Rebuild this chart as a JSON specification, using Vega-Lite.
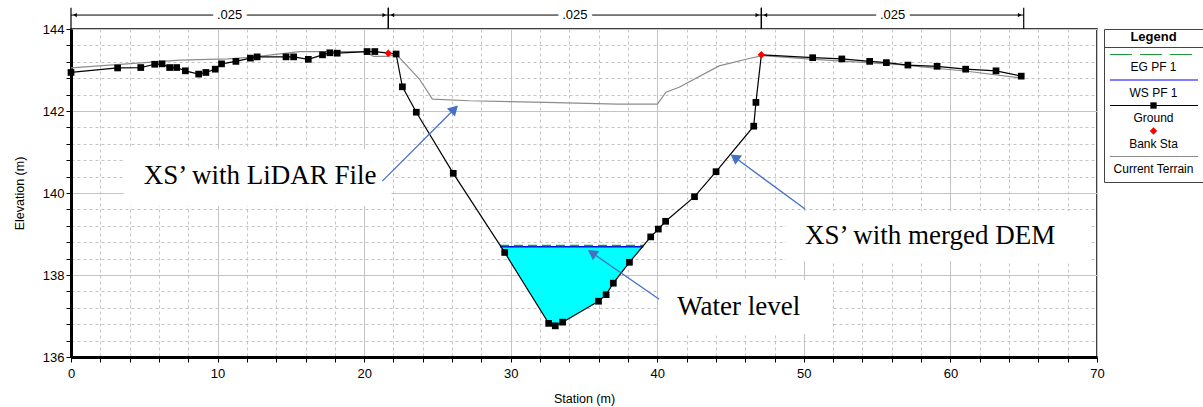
{
  "$schema": "https://vega.github.io/schema/vega-lite/v6.json",
  "autosize": {"type": "pad"},
  "padding": {"left": 12, "top": 6, "right": 0, "bottom": 0},
  "background": "white",
  "spacing": 7,
  "bounds": "flush",
  "config": {"font": "Liberation Sans"},
  "datasets": {
    "ground": [
      {"station": 0, "elevation": 142.94},
      {"station": 3.18, "elevation": 143.05},
      {"station": 4.76, "elevation": 143.06},
      {"station": 5.71, "elevation": 143.14},
      {"station": 6.21, "elevation": 143.15},
      {"station": 6.73, "elevation": 143.06},
      {"station": 7.21, "elevation": 143.06},
      {"station": 7.8, "elevation": 142.98},
      {"station": 8.71, "elevation": 142.9},
      {"station": 9.2, "elevation": 142.94},
      {"station": 9.84, "elevation": 143.02},
      {"station": 10.27, "elevation": 143.15},
      {"station": 11.25, "elevation": 143.21},
      {"station": 12.24, "elevation": 143.29},
      {"station": 12.7, "elevation": 143.32},
      {"station": 14.67, "elevation": 143.32},
      {"station": 15.19, "elevation": 143.32},
      {"station": 16.19, "elevation": 143.26},
      {"station": 17.16, "elevation": 143.37},
      {"station": 17.66, "elevation": 143.42},
      {"station": 18.16, "elevation": 143.41},
      {"station": 20.2, "elevation": 143.45},
      {"station": 20.73, "elevation": 143.45},
      {"station": 21.65, "elevation": 143.41, "bank": true},
      {"station": 22.18, "elevation": 143.39},
      {"station": 22.61, "elevation": 142.59},
      {"station": 23.56, "elevation": 141.97},
      {"station": 26.08, "elevation": 140.48},
      {"station": 29.59, "elevation": 138.55},
      {"station": 32.59, "elevation": 136.82},
      {"station": 33.04, "elevation": 136.76},
      {"station": 33.54, "elevation": 136.85},
      {"station": 35.99, "elevation": 137.36},
      {"station": 36.51, "elevation": 137.52},
      {"station": 37.0, "elevation": 137.8},
      {"station": 38.1, "elevation": 138.31},
      {"station": 39.55, "elevation": 138.93},
      {"station": 40.07, "elevation": 139.12},
      {"station": 40.57, "elevation": 139.31},
      {"station": 42.54, "elevation": 139.91},
      {"station": 44.01, "elevation": 140.52},
      {"station": 46.58, "elevation": 141.63},
      {"station": 46.73, "elevation": 142.21},
      {"station": 47.1, "elevation": 143.37, "bank": true},
      {"station": 50.6, "elevation": 143.3},
      {"station": 52.59, "elevation": 143.27},
      {"station": 54.49, "elevation": 143.21},
      {"station": 55.63, "elevation": 143.18},
      {"station": 57.1, "elevation": 143.12},
      {"station": 59.09, "elevation": 143.09},
      {"station": 61.04, "elevation": 143.02},
      {"station": 63.11, "elevation": 142.98},
      {"station": 64.83, "elevation": 142.85}
    ],
    "terrain": [
      {"station": 0, "elevation": 143.05},
      {"station": 7.42, "elevation": 143.24},
      {"station": 10.69, "elevation": 143.27},
      {"station": 12.2, "elevation": 143.31},
      {"station": 15.59, "elevation": 143.45},
      {"station": 20.09, "elevation": 143.45},
      {"station": 20.63, "elevation": 143.33},
      {"station": 21.59, "elevation": 143.33},
      {"station": 22.2, "elevation": 143.38},
      {"station": 23.77, "elevation": 142.78},
      {"station": 24.66, "elevation": 142.29},
      {"station": 27.18, "elevation": 142.25},
      {"station": 32.41, "elevation": 142.21},
      {"station": 37.29, "elevation": 142.17},
      {"station": 40.01, "elevation": 142.17},
      {"station": 40.59, "elevation": 142.46},
      {"station": 41.49, "elevation": 142.58},
      {"station": 44.22, "elevation": 143.1},
      {"station": 46.27, "elevation": 143.28},
      {"station": 47.17, "elevation": 143.35},
      {"station": 50.7, "elevation": 143.26},
      {"station": 56.49, "elevation": 143.13},
      {"station": 61.13, "elevation": 142.97},
      {"station": 64.95, "elevation": 142.8}
    ],
    "water": [
      {"station": 29.27, "bed": 138.69, "ws": 138.69},
      {"station": 29.59, "bed": 138.55, "ws": 138.69},
      {"station": 32.59, "bed": 136.82, "ws": 138.69},
      {"station": 33.04, "bed": 136.76, "ws": 138.69},
      {"station": 33.54, "bed": 136.85, "ws": 138.69},
      {"station": 35.99, "bed": 137.36, "ws": 138.69},
      {"station": 36.51, "bed": 137.52, "ws": 138.69},
      {"station": 37.0, "bed": 137.8, "ws": 138.69},
      {"station": 38.1, "bed": 138.31, "ws": 138.69},
      {"station": 39.05, "bed": 138.69, "ws": 138.69}
    ],
    "eg": [
      {"station": 29.27, "elevation": 138.72},
      {"station": 39.05, "elevation": 138.72}
    ],
    "nvalues": [
      {"seg": 1, "n": ".025", "from": 0, "to": 21.65},
      {"seg": 2, "n": ".025", "from": 21.65, "to": 47.1},
      {"seg": 3, "n": ".025", "from": 47.1, "to": 65}
    ],
    "notes": [
      {"id": 1, "label": "XS’ with LiDAR File", "tx": 4.96, "ty": 140.41, "bx1": 3.59, "bx2": 21.86, "by1": 141.07, "by2": 139.68, "ax1": 21.24, "ay1": 140.29, "ax2": 26.16, "ay2": 142.05},
      {"id": 2, "label": "XS’ with merged DEM", "tx": 50.08, "ty": 138.95, "bx1": 48.78, "bx2": 69.65, "by1": 139.56, "by2": 138.34, "ax1": 50.08, "ay1": 139.61, "ax2": 45.28, "ay2": 140.87},
      {"id": 3, "label": "Water level", "tx": 41.36, "ty": 137.22, "bx1": 40.13, "bx2": 51.92, "by1": 137.88, "by2": 136.56, "ax1": 40.13, "ay1": 137.41, "ax2": 35.55, "ay2": 138.54}
    ],
    "legend": [
      {"item": "Legend", "kind": "title"},
      {"item": "EG PF 1", "kind": "eg"},
      {"item": "WS PF 1", "kind": "ws"},
      {"item": "Ground", "kind": "ground"},
      {"item": "Bank Sta", "kind": "bank"},
      {"item": "Current Terrain", "kind": "terrain"}
    ]
  },
  "hconcat": [
    {
      "width": 1026,
      "height": 328,
      "view": {"stroke": "#000", "strokeWidth": 1.5},
      "layer": [
        {
          "data": {"name": "notes"},
          "mark": {"type": "rect", "fill": "white"},
          "encoding": {
            "x": {
              "field": "bx1", "type": "quantitative", "title": "Station (m)",
              "scale": {"domain": [0, 70], "nice": false, "zero": false},
              "axis": {
                "values": [0,2,4,6,8,10,12,14,16,18,20,22,24,26,28,30,32,34,36,38,40,42,44,46,48,50,52,54,56,58,60,62,64,66,68,70],
                "tickCount": 200,
                "labelExpr": "datum.value % 10 === 0 ? format(datum.value, 'd') : ''",
                "grid": true,
                "gridColor": "#c4c4c4",
                "gridDash": {"condition": {"test": "datum.value % 10 === 0", "value": []}, "value": [3, 3]},
                "domainColor": "#000", "domainWidth": 3,
                "tickColor": "#000", "tickSize": 5,
                "labelColor": "#000", "labelFontSize": 13, "labelPadding": 5,
                "labelOverlap": false, "labelFlush": false,
                "titleColor": "#000", "titleFontSize": 12.5, "titleFontWeight": "normal", "titlePadding": 12
              }
            },
            "x2": {"field": "bx2"},
            "y": {
              "field": "by1", "type": "quantitative", "title": "Elevation (m)",
              "scale": {"domain": [136, 144], "nice": false, "zero": false},
              "axis": {
                "values": [136,136.4,136.8,137.2,137.6,138,138.4,138.8,139.2,139.6,140,140.4,140.8,141.2,141.6,142,142.4,142.8,143.2,143.6,144],
                "tickCount": 200,
                "labelExpr": "datum.value % 2 === 0 ? format(datum.value, 'd') : ''",
                "grid": true,
                "gridColor": "#c4c4c4",
                "gridDash": {"condition": {"test": "datum.value % 2 === 0", "value": []}, "value": [3, 3]},
                "domainColor": "#000", "domainWidth": 3,
                "tickColor": "#000", "tickSize": 5,
                "labelColor": "#000", "labelFontSize": 13, "labelPadding": 2,
                "labelOverlap": false, "labelFlush": false,
                "titleColor": "#000", "titleFontSize": 12.5, "titleFontWeight": "normal", "titlePadding": 16
              }
            },
            "y2": {"field": "by2"}
          }
        },
        {
          "data": {"name": "water"},
          "mark": {"type": "area", "color": "#00ffff", "opacity": 1},
          "encoding": {
            "x": {"field": "station", "type": "quantitative"},
            "y": {"field": "bed", "type": "quantitative"},
            "y2": {"field": "ws"}
          }
        },
        {
          "data": {"name": "terrain"},
          "mark": {"type": "line", "color": "#8c8c8c", "strokeWidth": 1.2},
          "encoding": {
            "x": {"field": "station", "type": "quantitative"},
            "y": {"field": "elevation", "type": "quantitative"}
          }
        },
        {
          "data": {"name": "water"},
          "mark": {"type": "line", "color": "#0000ff", "strokeWidth": 1.5},
          "encoding": {
            "x": {"field": "station", "type": "quantitative"},
            "y": {"field": "ws", "type": "quantitative"}
          }
        },
        {
          "data": {"name": "eg"},
          "mark": {"type": "line", "color": "#1e9a3a", "strokeWidth": 1.5, "strokeDash": [9, 5]},
          "encoding": {
            "x": {"field": "station", "type": "quantitative"},
            "y": {"field": "elevation", "type": "quantitative"}
          }
        },
        {
          "data": {"name": "ground"},
          "mark": {"type": "line", "color": "#000", "strokeWidth": 1.2},
          "encoding": {
            "x": {"field": "station", "type": "quantitative"},
            "y": {"field": "elevation", "type": "quantitative"}
          }
        },
        {
          "data": {"name": "ground"},
          "transform": [{"filter": "!datum.bank"}],
          "mark": {"type": "point", "shape": "square", "filled": true, "color": "#000", "size": 45, "opacity": 1},
          "encoding": {
            "x": {"field": "station", "type": "quantitative"},
            "y": {"field": "elevation", "type": "quantitative"}
          }
        },
        {
          "data": {"name": "ground"},
          "transform": [{"filter": "datum.bank"}],
          "mark": {"type": "point", "shape": "diamond", "filled": true, "color": "#ff0000", "size": 55, "opacity": 1},
          "encoding": {
            "x": {"field": "station", "type": "quantitative"},
            "y": {"field": "elevation", "type": "quantitative"}
          }
        },
        {
          "data": {"name": "nvalues"},
          "mark": {"type": "rule", "color": "#000", "strokeWidth": 1},
          "encoding": {
            "x": {"field": "from", "type": "quantitative"},
            "x2": {"field": "to"},
            "y": {"datum": 144.34}
          }
        },
        {
          "data": {"name": "nvalues"},
          "transform": [{"fold": ["from", "to"], "as": ["end", "sta"]}],
          "mark": {"type": "rule", "color": "#000", "strokeWidth": 1.2},
          "encoding": {
            "x": {"field": "sta", "type": "quantitative"},
            "y": {"datum": 144.52},
            "y2": {"datum": 144.0}
          }
        },
        {
          "data": {"name": "nvalues"},
          "mark": {"type": "point", "shape": "triangle-left", "filled": true, "color": "#000", "size": 18, "xOffset": 4, "opacity": 1},
          "encoding": {
            "x": {"field": "from", "type": "quantitative"},
            "y": {"datum": 144.34}
          }
        },
        {
          "data": {"name": "nvalues"},
          "mark": {"type": "point", "shape": "triangle-right", "filled": true, "color": "#000", "size": 18, "xOffset": -4, "opacity": 1},
          "encoding": {
            "x": {"field": "to", "type": "quantitative"},
            "y": {"datum": 144.34}
          }
        },
        {
          "data": {"name": "nvalues"},
          "transform": [{"fold": ["from", "to"], "as": ["end", "sta"]}],
          "mark": {"type": "text", "fontSize": 13, "stroke": "white", "strokeWidth": 10, "color": "white", "baseline": "middle"},
          "encoding": {
            "x": {"aggregate": "mean", "field": "sta", "type": "quantitative"},
            "y": {"datum": 144.34},
            "detail": {"field": "seg"},
            "text": {"field": "n"}
          }
        },
        {
          "data": {"name": "nvalues"},
          "transform": [{"fold": ["from", "to"], "as": ["end", "sta"]}],
          "mark": {"type": "text", "fontSize": 13, "color": "#000", "baseline": "middle"},
          "encoding": {
            "x": {"aggregate": "mean", "field": "sta", "type": "quantitative"},
            "y": {"datum": 144.34},
            "detail": {"field": "seg"},
            "text": {"field": "n"}
          }
        },
        {
          "data": {"name": "notes"},
          "mark": {"type": "text", "font": "Liberation Serif", "fontSize": 27, "color": "#000", "align": "left", "baseline": "middle"},
          "encoding": {
            "x": {"field": "tx", "type": "quantitative"},
            "y": {"field": "ty", "type": "quantitative"},
            "text": {"field": "label"}
          }
        },
        {
          "data": {"name": "notes"},
          "mark": {"type": "rule", "color": "#4472c4", "strokeWidth": 1.3},
          "encoding": {
            "x": {"field": "ax1", "type": "quantitative"},
            "y": {"field": "ay1", "type": "quantitative"},
            "x2": {"field": "ax2"},
            "y2": {"field": "ay2"}
          }
        },
        {
          "data": {"name": "notes"},
          "transform": [{"filter": "datum.id === 1"}],
          "mark": {"type": "point", "shape": "triangle-up", "filled": true, "color": "#4472c4", "size": 130, "angle": 45, "opacity": 1},
          "encoding": {
            "x": {"field": "ax2", "type": "quantitative"},
            "y": {"field": "ay2", "type": "quantitative"}
          }
        },
        {
          "data": {"name": "notes"},
          "transform": [{"filter": "datum.id === 2"}],
          "mark": {"type": "point", "shape": "triangle-up", "filled": true, "color": "#4472c4", "size": 130, "angle": 306, "opacity": 1},
          "encoding": {
            "x": {"field": "ax2", "type": "quantitative"},
            "y": {"field": "ay2", "type": "quantitative"}
          }
        },
        {
          "data": {"name": "notes"},
          "transform": [{"filter": "datum.id === 3"}],
          "mark": {"type": "point", "shape": "triangle-up", "filled": true, "color": "#4472c4", "size": 130, "angle": 304, "opacity": 1},
          "encoding": {
            "x": {"field": "ax2", "type": "quantitative"},
            "y": {"field": "ay2", "type": "quantitative"}
          }
        }
      ]
    },
    {
      "width": 99,
      "height": 153,
      "view": {"stroke": "#444", "strokeWidth": 1},
      "data": {"name": "legend"},
      "layer": [
        {
          "transform": [{"filter": "datum.kind === 'title'"}],
          "mark": {"type": "text", "fontSize": 13, "fontWeight": "bold", "color": "#000", "baseline": "middle"},
          "encoding": {
            "x": {"datum": 0.5, "type": "quantitative", "scale": {"domain": [0, 1]}, "axis": null},
            "y": {"field": "item", "type": "nominal", "sort": null, "bandPosition": 0.3, "scale": {"type": "band", "domain": ["Legend", "EG PF 1", "WS PF 1", "Ground", "Bank Sta", "Current Terrain"], "paddingInner": 0, "paddingOuter": 0}, "axis": null},
            "text": {"field": "item"}
          }
        },
        {
          "transform": [{"filter": "datum.kind === 'eg'"}],
          "mark": {"type": "rule", "color": "#444", "strokeWidth": 1, "yOffset": -7},
          "encoding": {
            "x": {"datum": 0, "type": "quantitative", "scale": {"domain": [0, 1]}, "axis": null},
            "x2": {"datum": 1},
            "y": {"field": "item", "type": "nominal", "sort": null, "bandPosition": 0, "axis": null}
          }
        },
        {
          "transform": [{"filter": "datum.kind === 'eg'"}],
          "mark": {"type": "rule", "color": "#1e9a3a", "strokeWidth": 1.2, "strokeDash": [22, 8]},
          "encoding": {
            "x": {"datum": 0.06, "type": "quantitative", "scale": {"domain": [0, 1]}, "axis": null},
            "x2": {"datum": 0.95},
            "y": {"field": "item", "type": "nominal", "sort": null, "bandPosition": 0, "axis": null}
          }
        },
        {
          "transform": [{"filter": "datum.kind === 'ws'"}],
          "mark": {"type": "rule", "color": "#0000ff", "strokeWidth": 1.2},
          "encoding": {
            "x": {"datum": 0.06, "type": "quantitative", "scale": {"domain": [0, 1]}, "axis": null},
            "x2": {"datum": 0.95},
            "y": {"field": "item", "type": "nominal", "sort": null, "bandPosition": 0, "axis": null}
          }
        },
        {
          "transform": [{"filter": "datum.kind === 'ground'"}],
          "mark": {"type": "rule", "color": "#000", "strokeWidth": 1.2},
          "encoding": {
            "x": {"datum": 0.06, "type": "quantitative", "scale": {"domain": [0, 1]}, "axis": null},
            "x2": {"datum": 0.95},
            "y": {"field": "item", "type": "nominal", "sort": null, "bandPosition": 0, "axis": null}
          }
        },
        {
          "transform": [{"filter": "datum.kind === 'ground'"}],
          "mark": {"type": "point", "shape": "square", "filled": true, "color": "#000", "size": 40, "opacity": 1},
          "encoding": {
            "x": {"datum": 0.5, "type": "quantitative", "scale": {"domain": [0, 1]}, "axis": null},
            "y": {"field": "item", "type": "nominal", "sort": null, "bandPosition": 0, "axis": null}
          }
        },
        {
          "transform": [{"filter": "datum.kind === 'bank'"}],
          "mark": {"type": "point", "shape": "diamond", "filled": true, "color": "#ff0000", "size": 55, "opacity": 1},
          "encoding": {
            "x": {"datum": 0.5, "type": "quantitative", "scale": {"domain": [0, 1]}, "axis": null},
            "y": {"field": "item", "type": "nominal", "sort": null, "bandPosition": 0, "axis": null}
          }
        },
        {
          "transform": [{"filter": "datum.kind === 'terrain'"}],
          "mark": {"type": "rule", "color": "#8c8c8c", "strokeWidth": 1.2},
          "encoding": {
            "x": {"datum": 0.06, "type": "quantitative", "scale": {"domain": [0, 1]}, "axis": null},
            "x2": {"datum": 0.95},
            "y": {"field": "item", "type": "nominal", "sort": null, "bandPosition": 0, "axis": null}
          }
        },
        {
          "transform": [{"filter": "datum.kind !== 'title'"}],
          "mark": {"type": "text", "fontSize": 12, "color": "#000", "baseline": "middle"},
          "encoding": {
            "x": {"datum": 0.5, "type": "quantitative", "scale": {"domain": [0, 1]}, "axis": null},
            "y": {"field": "item", "type": "nominal", "sort": null, "bandPosition": 0.5, "axis": null},
            "text": {"field": "item"}
          }
        }
      ]
    }
  ]
}
